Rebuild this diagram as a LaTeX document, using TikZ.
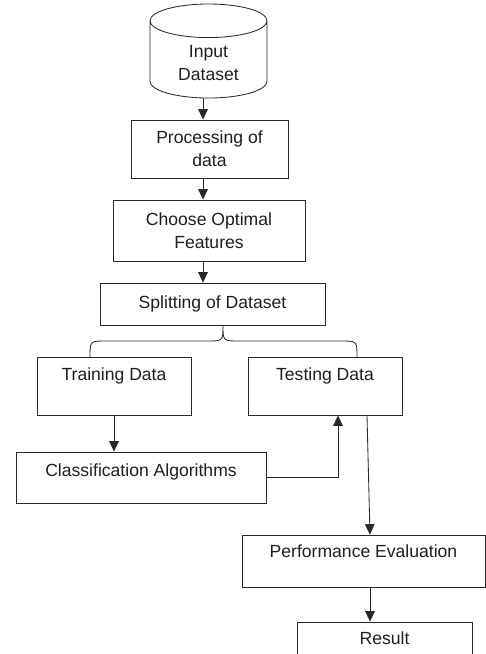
\documentclass[tikz,border=0pt]{standalone}
\usepackage{fontspec}
\setmainfont{Liberation Sans}
\usetikzlibrary{shapes.geometric,arrows.meta,positioning,calc}
\definecolor{linegray}{RGB}{40,40,40}
\definecolor{textgray}{RGB}{30,30,30}

\begin{document}
\begin{tikzpicture}[
    x=0.025cm, y=-0.025cm,
    font=\fontsize{12.5}{16.5}\selectfont,
    box/.style={rectangle, draw=linegray, line width=0.6pt, text=textgray, align=center, inner sep=2pt},
    arrow/.style={-{Triangle[length=2.6mm,width=2.4mm]}, draw=linegray, line width=0.6pt},
    wire/.style={draw=linegray, line width=0.6pt}
]
\clip (0,0) rectangle (486,654);

\node[cylinder, shape border rotate=90, draw=linegray, line width=0.6pt, text=textgray, aspect=0.48,
      minimum width=2.925cm, minimum height=2.35cm, align=center, anchor=shape center] (data) at (208.5,51) {Input\\Dataset};
\node[box, minimum width=3.925cm, minimum height=1.45cm] (proc) at (209.5,149) {Processing of\\data};
\node[box, minimum width=4.8cm, minimum height=1.525cm] (feat) at (209,230.5) {Choose Optimal\\Features};
\node[box, minimum width=5.625cm, minimum height=1.05cm] (split) at (212.5,304) {Splitting of Dataset};
\node[box, minimum width=3.85cm, minimum height=1.45cm] (train) at (114,386) {Training Data\\\mbox{}};
\node[box, minimum width=3.85cm, minimum height=1.45cm] (test) at (325,386) {Testing Data\\\mbox{}};
\node[box, minimum width=6.25cm, minimum height=1.275cm, text depth=0.36cm] (clf) at (141,477.5) {Classification Algorithms};
\node[box, minimum width=6.075cm, minimum height=1.3cm, text depth=0.5cm] (perf) at (363.5,561) {Performance Evaluation};
\node[box, minimum width=4.375cm, minimum height=1.3cm, text depth=0.5cm] (res) at (384.5,648) {Result};

\coordinate (spine) at (203,0);
\coordinate (spine2) at (370,0);
\coordinate (fork) at (223,325);
\coordinate (bl) at (90,357);
\coordinate (br) at (357,357);

\draw[arrow] (data.south -| spine) -- (proc.north -| spine);
\draw[arrow] (proc.south -| spine) -- (feat.north -| spine);
\draw[arrow] (feat.south -| spine) -- (split.north -| spine);
\draw[wire] (bl) .. controls (90,341) .. (106,341) -- (207,341) .. controls (223,341) .. (fork)
    .. controls (223,341) .. (239,341) -- (341,341) .. controls (357,341) .. (br);
\draw[arrow] (train.south) -- (train.south |- clf.north);
\draw[arrow] (clf.east) -| ($(test.south)+(13,0)$);
\draw[arrow] ($(test.south)+(42,0)$) -- (perf.north -| spine2);
\draw[arrow] (perf.south -| spine2) -- (res.north -| spine2);
\end{tikzpicture}
\end{document}
